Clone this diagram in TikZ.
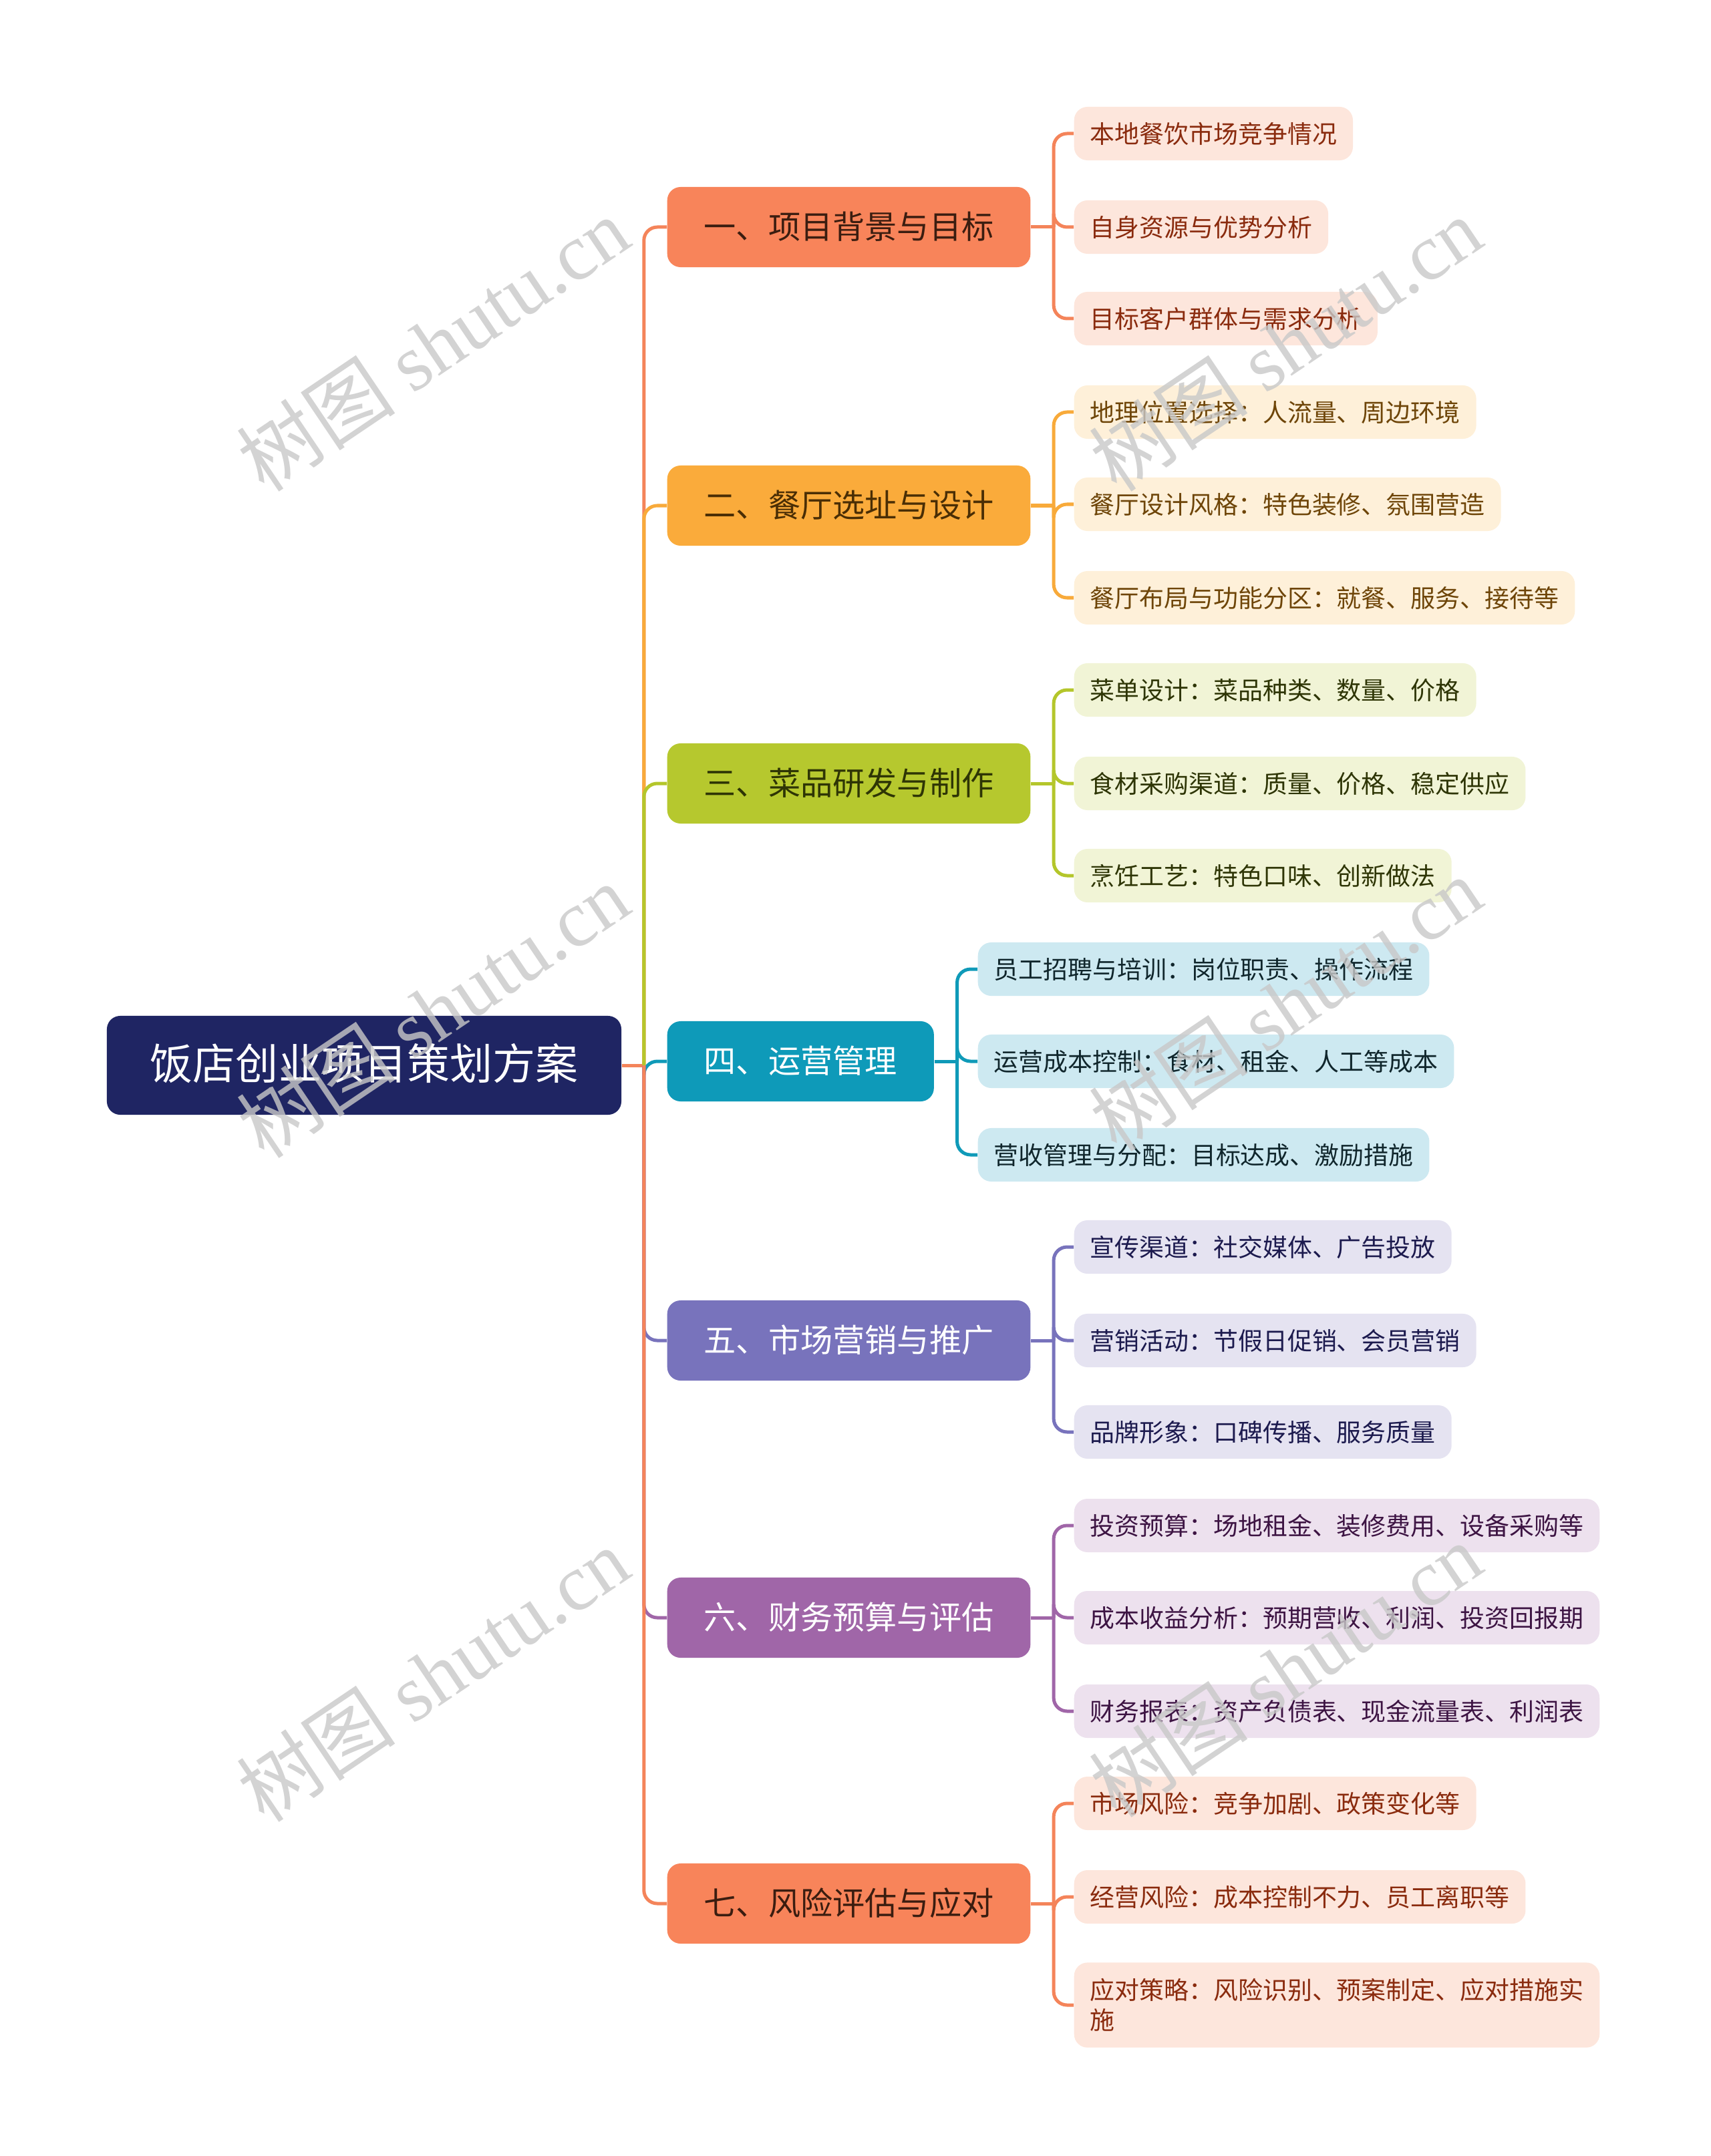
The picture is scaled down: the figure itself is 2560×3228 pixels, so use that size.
\documentclass[tikz,border=0pt]{standalone}
\usepackage{fontspec}
\setmainfont{Noto Sans CJK SC}
\newfontfamily\wmserif{Liberation Serif}

\definecolor{rootFill}{HTML}{1F2563}
\definecolor{oLine}{HTML}{F4845A}\definecolor{oFill}{HTML}{F8845A}\definecolor{oText}{HTML}{3B1D10}
\definecolor{oLeaf}{HTML}{FDE6DC}\definecolor{oLeafText}{HTML}{8A2B0E}
\definecolor{yLine}{HTML}{F8AA3A}\definecolor{yFill}{HTML}{FAAB3B}\definecolor{yText}{HTML}{4A2E05}
\definecolor{yLeaf}{HTML}{FEF0D9}\definecolor{yLeafText}{HTML}{6E4508}
\definecolor{gLine}{HTML}{B4C62B}\definecolor{gFill}{HTML}{B6C82E}\definecolor{gText}{HTML}{2E3505}
\definecolor{gLeaf}{HTML}{F1F4D6}\definecolor{gLeafText}{HTML}{2E3505}
\definecolor{tLine}{HTML}{0F9AB8}\definecolor{tFill}{HTML}{0E9AB9}\definecolor{tText}{HTML}{FFFFFF}
\definecolor{tLeaf}{HTML}{CDE9F1}\definecolor{tLeafText}{HTML}{10262C}
\definecolor{pLine}{HTML}{7873BC}\definecolor{pFill}{HTML}{7873BC}\definecolor{pText}{HTML}{FFFFFF}
\definecolor{pLeaf}{HTML}{E5E3F1}\definecolor{pLeafText}{HTML}{1C1A4E}
\definecolor{vLine}{HTML}{A066A8}\definecolor{vFill}{HTML}{A066A8}\definecolor{vText}{HTML}{FFFFFF}
\definecolor{vLeaf}{HTML}{EDE1EE}\definecolor{vLeafText}{HTML}{3D1443}
\definecolor{wmGray}{HTML}{C8C8C8}

\begin{document}
\begin{tikzpicture}
[x=0.01cm,y=-0.01cm,
  rootDecorate/.style={shape=rectangle,rounded corners=0.2cm,fill=rootFill,text=white,
    minimum height=1.48cm,inner xsep=0.65cm,text height=1.25em,text depth=0em,
    font=\fontsize{18.2}{22}\selectfont},
  branchDecorate/.style={shape=rectangle,rounded corners=0.2cm,fill=#1Fill,text=#1Text,
    minimum height=1.2cm,inner xsep=0.55cm,anchor=west,text height=1.0em,text depth=0.03em,
    font=\fontsize{13.7}{16}\selectfont},
  leafDecorate/.style={shape=rectangle,rounded corners=0.2cm,fill=#1Leaf,text=#1LeafText,
    minimum height=0.8cm,inner xsep=0.24cm,inner ysep=0.2cm,anchor=west,align=left,
    text height=0.9em,text depth=0.07em,font=\fontsize{10.5}{12.8}\selectfont},
  lineDecorate/.style={-,line width=0.05cm,draw=#1Line,rounded corners=0.2cm},
  wmDecorate/.style={rotate=34,text=wmGray,text opacity=0.8,font=\fontsize{34}{34}\selectfont}]
\useasboundingbox (0,0) rectangle (2560,3228);
%% root
\node (root) at (545,1595) [rootDecorate] {饭店创业项目策划方案};
%% main branches
\foreach \nodename/\y/\tone/\txt in {b1/340/o/一、项目背景与目标, b2/757/y/二、餐厅选址与设计,
  b3/1173/g/三、菜品研发与制作, b4/1589/t/四、运营管理, b5/2007/p/五、市场营销与推广,
  b6/2422/v/六、财务预算与评估, b7/2850/o/七、风险评估与应对} {
  \node (\nodename) at (998,\y) [branchDecorate=\tone] {\txt};
}
%% leaves
\foreach \nodename/\x/\y/\tone/\txt in {l11/1607/200/o/本地餐饮市场竞争情况,
  l12/1607/340/o/自身资源与优势分析, l13/1607/477/o/目标客户群体与需求分析,
  l21/1607/617/y/地理位置选择：人流量、周边环境, l22/1607/755/y/餐厅设计风格：特色装修、氛围营造,
  l23/1607/895/y/餐厅布局与功能分区：就餐、服务、接待等,
  l31/1607/1033/g/菜单设计：菜品种类、数量、价格, l32/1607/1173/g/食材采购渠道：质量、价格、稳定供应,
  l33/1607/1311/g/烹饪工艺：特色口味、创新做法,
  l41/1463/1451/t/员工招聘与培训：岗位职责、操作流程, l42/1463/1589/t/运营成本控制：食材、租金、人工等成本,
  l43/1463/1729/t/营收管理与分配：目标达成、激励措施,
  l51/1607/1867/p/宣传渠道：社交媒体、广告投放, l52/1607/2007/p/营销活动：节假日促销、会员营销,
  l53/1607/2144/p/品牌形象：口碑传播、服务质量,
  l61/1607/2284/v/投资预算：场地租金、装修费用、设备采购等, l62/1607/2422/v/成本收益分析：预期营收、利润、投资回报期,
  l63/1607/2562/v/财务报表：资产负债表、现金流量表、利润表,
  l71/1607/2700/o/市场风险：竞争加剧、政策变化等, l72/1607/2840/o/经营风险：成本控制不力、员工离职等} {
  \node (\nodename) at (\x,\y) [leafDecorate=\tone] {\txt};
}
\node (l73) at (1607,3002) [leafDecorate=o,text height={},text depth={},inner ysep=0.24cm]
  {应对策略：风险识别、预案制定、应对措施实\\施};
%% edges root -> branches
\coordinate (trunk) at ([xshift=0.33cm]root.east);
\draw[lineDecorate=o] (root.east) -- (trunk);
\foreach \endnode/\tone in {b1/o, b2/y, b3/g, b4/t, b5/p, b6/v, b7/o} {
  \draw[lineDecorate=\tone] (trunk) |- (\endnode.west);
}
%% edges branches -> leaves
\foreach \startnode/\tone in {b1/o, b2/y, b3/g, b4/t, b5/p, b6/v, b7/o} {
  \coordinate (\startnode j) at ([xshift=0.34cm]\startnode.east);
  \draw[lineDecorate=\tone] (\startnode.east) -- (\startnode j);
}
\foreach \startnode/\endnode/\tone in {b1/l11/o, b1/l12/o, b1/l13/o, b2/l21/y, b2/l22/y, b2/l23/y,
  b3/l31/g, b3/l32/g, b3/l33/g, b4/l41/t, b4/l42/t, b4/l43/t, b5/l51/p, b5/l52/p, b5/l53/p,
  b6/l61/v, b6/l62/v, b6/l63/v, b7/l71/o, b7/l72/o, b7/l73/o} {
  \draw[lineDecorate=\tone] (\startnode j) |- (\endnode.west);
}
%% watermarks
\foreach \wname/\wx/\wy in {w1/648/515, w2/1924/515, w3/648/1513, w4/1924/1503, w5/648/2507, w6/1924/2500} {
  \node (\wname) at (\wx,\wy) [wmDecorate] {树图 {\wmserif shutu.cn}};
}
\end{tikzpicture}
\end{document}
